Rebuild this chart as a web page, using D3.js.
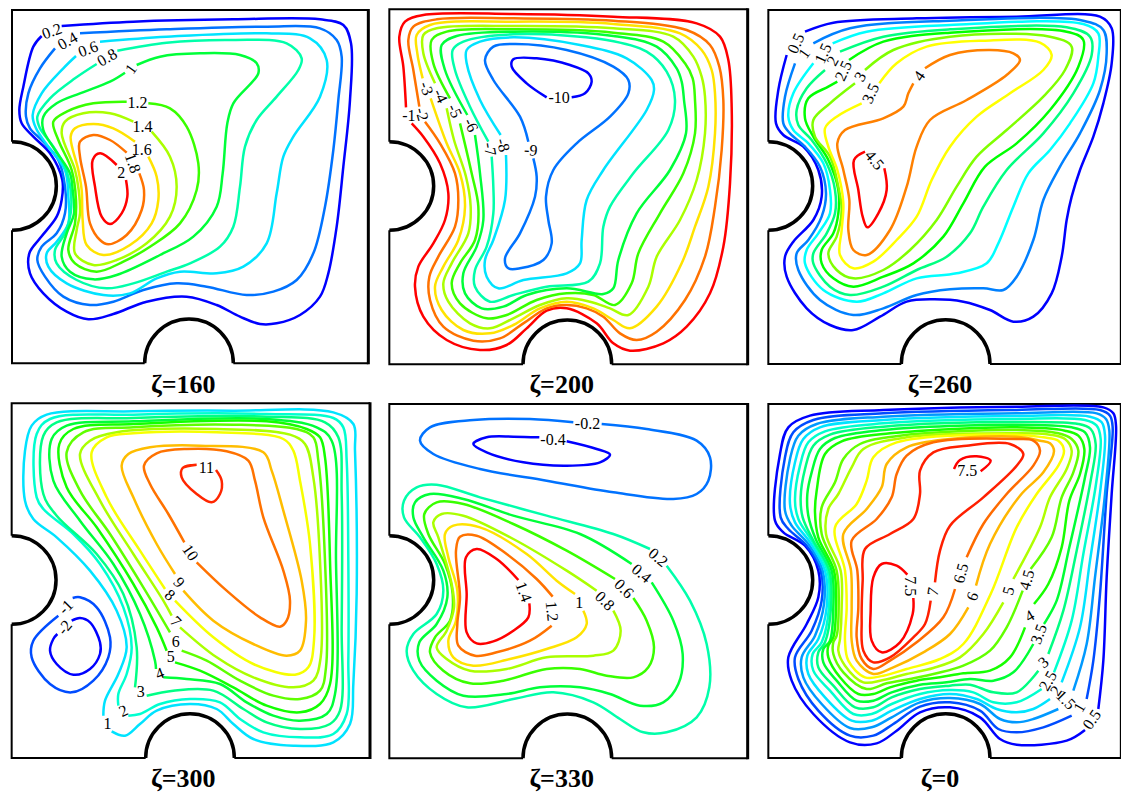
<!DOCTYPE html>
<html>
<head>
<meta charset="utf-8">
<script src="https://cdn.jsdelivr.net/npm/d3@7"></script>
<style>
  body { margin: 0; background: #fff; }
  text { font-family: "Liberation Serif", serif; }
</style>
</head>
<body>
<div id="chart"></div>
<script>
// Contours are traced in cavity units, one panel spans 0..1125 on both axes
const titles = ['ζ=160', 'ζ=200', 'ζ=260', 'ζ=300', 'ζ=330', 'ζ=0'];

// zeta = 160
const levels160 = [0.2, 0.4, 0.6, 0.8, 1, 1.2, 1.4, 1.6, 1.8, 2];
const lines160 = [
  [[185,78],[400,65],[700,58],[960,58],[1030,75],[1053,130],[1050,300],[1030,500],[1010,680],[985,820],[960,890],[900,945],[830,970],[780,972],[720,950],[650,915],[560,890],[440,905],[340,942],[265,958],[200,935],[130,880],[90,820],[88,760],[120,715],[170,650],[185,600],[187,540],[150,460],[100,410],[65,370],[58,330],[70,260],[100,140],[125,108]],
  [[240,100],[500,88],[800,80],[960,85],[1010,120],[1025,170],[1015,300],[1000,450],[975,620],[940,760],[890,840],[820,875],[740,885],[620,860],[530,850],[430,870],[340,905],[270,915],[190,890],[135,830],[112,780],[125,740],[170,700],[195,640],[195,560],[175,480],[130,425],[90,385],[78,350],[85,280],[120,205],[165,145]],
  [[300,125],[500,110],[800,100],[930,115],[980,180],[960,290],[880,410],[850,470],[830,580],[800,730],[730,800],[650,820],[540,815],[470,835],[390,880],[310,885],[200,850],[145,800],[140,760],[170,725],[205,670],[205,590],[195,510],[145,440],[108,385],[98,345],[125,280],[190,205],[228,168]],
  [[352,152],[500,128],[700,120],[860,130],[905,175],[895,210],[830,290],[770,360],[735,440],[720,560],[700,680],[660,740],[570,790],[500,815],[400,850],[320,865],[230,840],[170,790],[165,750],[195,700],[212,640],[212,570],[195,500],[160,440],[120,385],[112,350],[150,295],[225,235],[290,192]],
  [[410,195],[480,170],[600,160],[720,165],[770,190],[775,220],[700,310],[682,370],[668,520],[650,620],[580,710],[480,765],[350,825],[280,838],[210,815],[185,770],[200,700],[222,640],[218,570],[210,520],[165,450],[130,390],[130,350],[170,310],[240,280],[330,245],[375,218]],
  [[445,310],[510,325],[560,380],[595,490],[590,570],[540,670],[450,740],[370,785],[290,815],[225,790],[205,750],[225,670],[228,600],[215,510],[175,420],[160,365],[200,335],[280,310],[380,305]],
  [[455,395],[510,470],[530,560],[510,650],[440,730],[350,780],[280,795],[225,760],[230,690],[240,640],[236,570],[225,510],[185,400],[195,365],[250,340],[330,340],[400,365]],
  [[445,470],[470,530],[475,600],[455,670],[390,735],[310,765],[260,735],[248,660],[245,570],[235,510],[212,410],[225,385],[280,372],[340,385],[405,425]],
  [[418,520],[432,570],[425,630],[380,705],[325,733],[300,720],[270,670],[258,560],[240,470],[240,425],[280,405],[330,420],[380,458]],
  [[378,540],[382,590],[365,640],[330,672],[305,650],[285,560],[278,480],[300,460],[350,495]]
];
const angles160 = [-20, -30, -20, -30, -55, 0, 0, 0, 70, 0];

// zeta = 200
const levels200 = [-1, -2, -3, -4, -5, -6, -7, -8, -9, -10];
const lines200 = [
  [[78,322],[70,200],[58,110],[75,65],[130,45],[400,42],[700,50],[950,70],[1020,110],[1045,180],[1055,320],[1050,550],[1030,740],[990,880],[920,980],[850,1030],[750,1052],[700,1030],[650,970],[560,925],[500,932],[440,985],[380,1035],[300,1050],[200,1020],[130,950],[105,860],[115,800],[160,730],[195,660],[205,580],[180,490],[130,410],[95,370]],
  [[118,320],[100,210],[85,120],[100,80],[170,58],[400,55],[700,62],[920,90],[990,135],[1018,200],[1030,300],[1025,450],[1005,620],[975,770],[915,900],[830,995],[770,1020],[720,1000],[670,950],[620,925],[560,915],[500,925],[430,970],[360,1015],[280,1022],[190,980],[150,900],[148,830],[175,770],[225,680],[235,600],[225,520],[180,430],[135,365]],
  [[128,235],[112,160],[110,105],[150,75],[400,65],[700,72],[900,100],[965,150],[995,210],[1005,280],[1005,400],[985,560],[945,680],[905,790],[830,920],[750,985],[700,960],[640,925],[560,905],[480,925],[400,975],[330,1000],[250,990],[185,930],[165,860],[190,800],[235,720],[255,620],[240,520],[200,430],[152,295]],
  [[165,250],[130,160],[130,105],[170,85],[400,78],[700,85],[880,110],[940,170],[965,230],[975,290],[975,400],[950,540],[900,660],[830,770],[805,860],[745,945],[690,925],[630,905],[560,895],[480,915],[400,955],[330,985],[270,970],[205,905],[190,850],[215,790],[265,700],[272,620],[258,530],[222,420],[200,325]],
  [[210,295],[160,190],[155,120],[200,95],[400,88],[700,98],[850,125],[915,190],[938,235],[945,300],[945,400],[910,520],[840,640],[775,760],[755,850],[705,915],[640,885],[560,880],[470,900],[380,945],[320,955],[240,910],[215,850],[240,790],[285,720],[295,620],[275,520],[240,370]],
  [[262,345],[195,210],[185,135],[230,108],[400,95],[700,108],[830,140],[890,205],[905,245],[912,300],[918,400],[870,510],[770,640],[715,780],[700,865],[670,882],[560,865],[440,885],[370,920],[305,925],[255,880],[250,820],[290,740],[310,660],[300,520],[285,405]],
  [[325,425],[270,320],[225,210],[218,150],[250,125],[400,103],[680,120],[800,155],[860,215],[885,300],[865,390],[760,520],[690,620],[670,680],[660,790],[625,845],[500,860],[400,885],[330,905],[285,860],[285,810],[320,740],[340,640],[340,560],[335,470]],
  [[362,405],[300,300],[260,190],[260,150],[300,125],[400,112],[600,135],[740,175],[815,240],[822,270],[800,330],[670,510],[620,600],[605,720],[600,790],[560,820],[430,840],[355,865],[320,830],[315,780],[340,720],[375,600],[378,465]],
  [[445,425],[420,350],[340,240],[315,180],[340,140],[400,132],[560,150],[700,200],[745,240],[745,280],[690,350],[590,430],[520,510],[498,590],[505,660],[515,730],[490,780],[420,805],[385,805],[375,775],[420,700],[465,590],[470,530],[460,475]],
  [[500,292],[440,250],[395,200],[400,178],[470,175],[570,195],[625,220],[635,245],[615,280],[575,292]]
];
const angles200 = [0, 75, 70, 65, 65, 65, 80, 75, 5, 0];

// zeta = 260
const levels260 = [0.5, 1, 1.5, 2, 2.5, 3, 3.5, 4, 4.5];
const lines260 = [
  [[165,95],[250,68],[500,55],[800,50],[1050,50],[1085,85],[1085,190],[1060,310],[1030,410],[990,510],[965,590],[950,660],[935,770],[905,880],[850,950],[790,965],[720,930],[640,905],[550,898],[470,905],[390,950],[310,990],[240,975],[170,925],[110,830],[105,770],[130,725],[190,660],[215,590],[205,510],[160,440],[100,405],[78,370],[85,270],[110,165]],
  [[190,130],[300,85],[600,62],[1000,62],[1060,90],[1070,160],[1050,270],[990,400],[930,500],[880,600],[850,720],[800,830],[760,870],[700,865],[600,868],[500,885],[400,925],[310,945],[210,900],[145,810],[140,760],[175,720],[215,650],[228,580],[210,500],[165,440],[120,400],[100,370],[105,290],[135,190]],
  [[248,130],[350,95],[600,75],[1000,72],[1045,100],[1045,170],[1030,250],[960,370],[900,450],[835,520],[790,620],[745,730],[710,790],[620,820],[500,835],[400,880],[320,905],[220,870],[165,790],[170,750],[205,700],[240,640],[240,570],[220,490],[175,430],[130,390],[115,350],[130,280],[190,190]],
  [[270,155],[400,110],[600,88],[950,82],[1020,110],[1025,165],[970,280],[880,400],[770,510],[700,620],[660,700],[590,770],[500,810],[400,860],[300,885],[240,860],[190,790],[190,760],[230,700],[255,640],[255,570],[230,490],[185,420],[145,375],[140,330],[170,265],[225,210]],
  [[297,180],[400,125],[600,98],[950,95],[1000,120],[985,200],[900,330],[800,430],[705,500],[640,610],[580,710],[490,790],[400,830],[310,860],[250,835],[215,790],[215,750],[250,700],[265,640],[265,570],[235,480],[190,410],[165,355],[175,295],[235,260],[262,245]],
  [[345,210],[430,150],[600,110],[900,110],[965,140],[945,210],[880,290],[770,390],[680,470],[620,560],[560,660],[480,750],[400,810],[310,835],[260,810],[235,760],[260,710],[275,630],[265,560],[240,470],[195,410],[190,360],[240,310],[315,250]],
  [[388,250],[440,190],[530,140],[700,122],[870,128],[905,165],[880,210],[780,280],[680,350],[600,440],[545,540],[500,650],[440,720],[370,785],[310,805],[270,765],[275,690],[280,610],[262,510],[235,440],[225,385],[260,350],[335,310]],
  [[525,205],[600,165],[720,150],[790,160],[810,180],[770,225],[650,300],[540,360],[500,440],[470,560],[420,690],[350,765],[310,750],[295,690],[298,600],[280,510],[262,430],[285,390],[400,355],[460,320],[475,280],[490,250]],
  [[403,505],[410,570],[385,640],[352,682],[338,650],[325,570],[312,480],[345,455]]
];
const angles260 = [-65, -55, -65, -60, -65, -60, -65, -55, 50];

// zeta = 300
const levels300 = [-2, -1, 1, 2, 3, 4, 5, 6, 7, 8, 9, 10, 11];
const lines300 = [
  [[215,680],[240,672],[270,685],[300,745],[300,780],[270,825],[220,842],[170,810],[150,770],[160,735],[172,720]],
  [[218,612],[240,610],[290,640],[330,730],[325,790],[280,860],[215,895],[150,870],[95,790],[100,740],[175,665]],
  [[335,1012],[375,1025],[420,990],[470,950],[570,930],[650,945],[700,990],[760,1035],[880,1055],[1000,1045],[1050,990],[1060,870],[1070,600],[1065,170],[1060,90],[1000,55],[700,50],[400,52],[140,62],[95,95],[75,170],[75,320],[100,375],[170,430],[270,530],[350,650],[380,760],[355,840],[315,920],[310,965]],
  [[385,965],[420,960],[480,930],[570,915],[660,925],[720,975],[790,1015],[900,1030],[1000,1020],[1040,960],[1045,800],[1045,500],[1040,200],[1030,100],[1000,72],[800,60],[400,62],[150,75],[110,120],[110,310],[130,345],[220,420],[300,510],[370,640],[395,760],[380,840],[355,900],[355,935]],
  [[440,905],[520,890],[640,890],[730,945],[800,985],[900,1005],[990,990],[1020,950],[1025,700],[1025,300],[1015,130],[975,85],[800,68],[400,72],[170,85],[130,125],[130,300],[170,365],[290,480],[370,600],[410,760],[405,880]],
  [[490,850],[560,855],[660,870],[740,925],[820,965],[900,980],[980,960],[1005,900],[1008,500],[995,140],[950,100],[800,75],[400,82],[200,95],[155,135],[160,260],[240,380],[340,510],[420,660],[465,800],[468,825]],
  [[525,805],[600,830],[700,880],[800,935],[900,955],[960,930],[990,870],[990,500],[975,190],[960,130],[920,105],[800,82],[400,90],[220,105],[178,150],[200,280],[290,400],[400,570],[470,700],[500,770]],
  [[545,770],[620,800],[720,860],[820,905],[900,915],[960,890],[978,820],[975,500],[955,200],[940,130],[890,105],[700,92],[400,100],[250,115],[200,175],[240,290],[330,420],[430,580],[510,715]],
  [[540,700],[650,790],[760,850],[880,880],[940,860],[962,790],[960,500],[940,250],[915,150],[870,122],[650,105],[350,115],[270,140],[240,180],[300,320],[400,480],[490,620],[515,665]],
  [[525,620],[640,730],[760,810],[885,842],[925,820],[942,740],[930,450],[900,260],[880,170],[850,135],[650,115],[400,118],[320,130],[275,175],[320,310],[420,470],[495,585]],
  [[550,590],[640,680],[760,750],[860,785],[900,770],[918,680],[905,560],[850,350],[815,230],[790,175],[600,155],[450,160],[385,180],[365,215],[400,310],[470,450],[525,540]],
  [[590,505],[680,590],[780,670],[840,698],[860,680],[870,620],[850,530],[790,370],[765,260],[745,200],[680,172],[560,165],[470,178],[432,215],[450,270],[505,360],[553,445]],
  [[648,228],[665,260],[660,300],[635,325],[590,300],[545,250],[548,222],[590,212]]
];
const angles300 = [-50, -45, 0, -25, 0, -20, 0, 0, 45, 40, 50, 55, 0];

// zeta = 330
const levels330 = [-0.2, -0.4, 0.2, 0.4, 0.6, 0.8, 1, 1.2, 1.4];
const lines330 = [
  [[665,90],[800,105],[950,140],[990,190],[985,260],[950,300],[880,315],[700,295],[500,260],[300,225],[160,180],[120,140],[150,100],[280,78],[450,75],[580,85]],
  [[560,142],[650,165],[690,182],[660,205],[560,215],[430,205],[320,175],[280,150],[320,130],[400,128],[478,130]],
  [[860,515],[930,620],[980,750],[988,880],[950,970],[860,1015],[790,1015],[720,975],[640,925],[520,895],[400,915],[260,940],[170,900],[100,830],[80,770],[100,720],[170,660],[190,590],[170,510],[120,430],[72,370],[72,320],[110,280],[170,272],[300,310],[500,365],[700,420],[810,465]],
  [[815,565],[880,680],[908,780],[895,870],[850,925],[780,935],[690,900],[600,880],[480,880],[380,900],[250,905],[170,860],[118,800],[118,745],[170,690],[202,610],[190,530],[130,430],[100,370],[105,325],[150,300],[250,315],[400,365],[600,420],[755,510]],
  [[760,612],[800,680],[822,760],[805,820],[760,850],[680,845],[600,825],[500,825],[370,860],[270,868],[190,830],[150,775],[165,730],[210,680],[218,600],[195,510],[145,420],[133,360],[170,325],[250,330],[400,390],[560,470],[705,555]],
  [[700,650],[722,710],[700,770],[640,785],[500,790],[380,825],[270,830],[200,795],[170,760],[200,710],[222,640],[215,570],[175,430],[160,385],[185,360],[250,365],[400,435],[560,530],[650,590]],
  [[610,650],[620,690],[590,730],[500,765],[390,795],[280,815],[220,790],[205,740],[228,680],[232,590],[205,490],[195,420],[220,395],[300,400],[440,480],[530,560],[585,600]],
  [[515,695],[450,740],[350,775],[285,785],[235,755],[232,690],[240,610],[228,470],[240,428],[290,425],[380,480],[470,555],[518,608]],
  [[448,628],[445,670],[400,710],[340,742],[290,748],[260,715],[260,600],[258,490],[290,465],[350,495],[415,558]]
];
const angles330 = [0, 0, 40, 40, 45, 45, 0, 85, 70];

// zeta = 0 (5.5 carries no label and is a closed loop)
const levels0 = [0.5, 1, 1.5, 2, 2.5, 3, 3.5, 4, 4.5, 5, 5.5, 6, 6.5, 7, 7.5, 7.5];
const lines0 = [
  [[1005,1008],[950,1040],[800,1052],[750,1035],[690,970],[600,940],[510,955],[440,1010],[380,1048],[300,1045],[190,960],[125,860],[115,790],[170,690],[205,610],[205,530],[165,455],[100,415],[75,380],[90,180],[115,100],[180,65],[400,48],[800,38],[1060,40],[1090,58],[1098,95],[1085,300],[1070,550],[1060,800],[1045,945]],
  [[965,965],[880,1000],[800,1015],[745,1005],[690,950],[600,925],[510,938],[430,990],[370,1025],[300,1025],[205,950],[145,855],[135,790],[185,710],[215,620],[212,530],[170,455],[115,405],[92,370],[105,190],[130,115],[190,78],[400,58],[800,48],[1050,48],[1080,65],[1088,100],[1070,300],[1050,600],[1030,800],[1010,915]],
  [[925,945],[850,975],[800,985],[750,975],[690,930],[600,912],[510,925],[425,970],[365,1000],[300,1002],[215,930],[160,850],[155,790],[195,725],[222,630],[218,530],[175,450],[125,395],[105,350],[120,195],[145,125],[200,90],[400,68],[800,58],[1040,58],[1068,75],[1078,110],[1065,300],[1035,550],[1010,750],[970,890]],
  [[900,915],[850,945],[800,955],[740,945],[680,915],[600,900],[510,915],[425,950],[365,980],[305,980],[225,910],[175,840],[172,785],[205,735],[230,640],[225,530],[180,445],[135,385],[120,330],[135,205],[160,135],[210,100],[400,78],[800,66],[1020,68],[1055,85],[1065,125],[1052,280],[1020,500],[990,700],[935,865]],
  [[875,885],[800,925],[730,925],[670,895],[600,888],[510,900],[425,930],[365,960],[310,960],[240,890],[190,830],[188,780],[215,745],[237,640],[232,530],[185,440],[145,375],[135,320],[150,215],[175,145],[225,112],[400,88],[800,75],[1005,78],[1040,95],[1052,135],[1038,270],[1000,480],[965,680],[912,835]],
  [[865,830],[800,895],[730,895],[660,872],[600,875],[510,885],[425,910],[370,940],[315,940],[250,875],[205,820],[205,775],[225,745],[243,640],[238,530],[190,440],[158,370],[152,310],[165,225],[190,155],[240,122],[400,98],[800,84],[985,90],[1022,105],[1037,150],[1022,260],[980,470],[940,650],[895,780]],
  [[850,750],[790,835],[730,860],[660,855],[590,865],[510,872],[425,895],[370,920],[320,920],[260,860],[220,805],[220,765],[240,740],[250,640],[245,530],[197,435],[175,365],[172,300],[185,235],[210,165],[255,132],[400,108],[800,92],[965,100],[1005,115],[1020,160],[1005,250],[958,460],[920,620],[882,690]],
  [[825,700],[780,790],[720,830],[640,838],[570,850],[500,860],[420,880],[370,900],[325,900],[270,850],[235,790],[235,755],[250,730],[258,640],[252,530],[205,430],[195,355],[200,290],[225,180],[275,142],[420,118],[800,100],[945,110],[985,125],[1003,165],[990,240],[958,320],[935,460],[895,570],[852,630]],
  [[818,590],[770,700],[720,770],[640,815],[560,838],[480,855],[410,868],[350,885],[280,835],[250,780],[250,745],[260,725],[266,640],[260,530],[215,420],[215,340],[255,265],[280,195],[330,150],[450,125],[800,108],[925,118],[965,135],[985,170],[970,235],[935,310],[905,430],[842,525]],
  [[760,625],[700,720],[630,790],[550,822],[470,840],[400,858],[340,865],[285,815],[265,770],[270,735],[275,640],[272,530],[228,420],[235,345],[265,300],[305,220],[340,165],[470,130],[800,118],[900,122],[945,135],[965,170],[950,225],[900,310],[870,400],[790,555]],
  [[722,600],[640,750],[570,795],[470,825],[400,845],[345,850],[295,800],[285,740],[290,640],[285,530],[255,400],[320,330],[350,260],[370,190],[440,145],[800,122],[880,130],[925,140],[942,170],[925,215],[860,300],[800,400]],
  [[655,640],[600,720],[520,775],[430,820],[370,840],[320,800],[305,740],[305,640],[303,530],[280,420],[350,345],[395,280],[410,210],[470,160],[600,135],[800,128],[870,140],[900,148],[912,172],[880,235],[810,305],[720,450],[678,575]],
  [[615,585],[580,670],[500,745],[420,800],[370,825],[335,795],[320,730],[325,640],[322,530],[305,440],[380,375],[425,310],[440,240],[470,185],[550,145],[800,135],[850,140],[870,170],[850,215],[770,300],[700,390],[650,490]],
  [[542,620],[525,690],[490,730],[420,790],[370,805],[340,770],[335,680],[338,560],[345,465],[420,420],[490,375],[510,300],[510,230],[550,175],[650,155],[780,150],[820,180],[800,215],[700,310],[600,395],[570,470],[555,565]],
  [[490,612],[488,660],[450,745],[395,775],[365,740],[362,650],[370,550],[395,510],[440,515],[472,542]],
  [[692,232],[722,200],[680,187],[630,198],[612,225]]
];
const angles0 = [-55, -60, 45, -55, -60, -40, -70, -30, -75, -75, null, -70, -75, -80, 90, 0];

const width = 1121;
const height = 794;
const unit = 1125; // cavity units per panel

const jet = ['#0000ff', '#0080ff', '#00ffff', '#00ff80', '#00ff00', '#80ff00', '#ffff00', '#ff8000', '#ff0000'];
const jetStops = d3.range(9).map(i => i / 8);
const jetScale = d3.scaleLinear().domain(jetStops).range(jet).clamp(true);

const panels = [
  {levels: levels160, lines: lines160, angles: angles160, range: [0.2, 2],     ox: 0,   oy: 0,   box: [36, 1105, 30, 1090], left: 558, bottom: 567, tx: 550},
  {levels: levels200, lines: lines200, angles: angles200, range: [-10, -1],    ox: 380, oy: 0,   box: [28, 1103, 28, 1093], left: 558, bottom: 562, tx: 545},
  {levels: levels260, lines: lines260, angles: angles260, range: [0.5, 4.5],   ox: 750, oy: 0,   box: [55, 1114, 30, 1092], left: 558, bottom: 587, tx: 570},
  {levels: levels300, lines: lines300, angles: angles300, range: [-2, 11.5],   ox: 0,   oy: 394, box: [35, 1110, 28, 1092], left: 558, bottom: 570, tx: 550},
  {levels: levels330, lines: lines330, angles: angles330, range: [-0.4, 1.4],  ox: 380, oy: 394, box: [28, 1103, 30, 1093], left: 558, bottom: 562, tx: 545},
  {levels: levels0,   lines: lines0,   angles: angles0,   range: [0.5, 7.2],   ox: 750, oy: 394, box: [55, 1114, 30, 1092], left: 558, bottom: 587, tx: 570}
];

const svg = d3.select('#chart')
  .append('svg')
  .attr('width', width)
  .attr('height', height)
  .style('display', 'block');

panels.forEach((p, i) => {
  const x = d3.scaleLinear().domain([0, unit]).range([p.ox, p.ox + unit / 3]);
  const y = d3.scaleLinear().domain([0, unit]).range([p.oy, p.oy + unit / 3]);
  const g = svg.append('g').attr('class', 'panel');
  const color = v => jetScale((v - p.range[0]) / (p.range[1] - p.range[0]));

  const [x0, x1, y0, y1] = p.box;
  const r = 133 / 3;

  // Cavity walls
  const wall = d3.path();
  wall.moveTo(x(x0), y(p.left) + r);
  wall.lineTo(x(x0), y(y1));
  wall.lineTo(x(p.bottom) - r, y(y1));
  wall.moveTo(x(p.bottom) + r, y(y1));
  wall.lineTo(x(x1), y(y1));
  wall.moveTo(x(x0), y(p.left) - r);
  wall.lineTo(x(x0), y(y0));
  wall.lineTo(x(x1), y(y0));
  g.append('path').attr('d', wall.toString()).attr('fill', 'none').attr('stroke', '#000').attr('stroke-width', 2);

  g.append('line')
    .attr('x1', x(x1)).attr('x2', x(x1)).attr('y1', y(y0) - 1).attr('y2', y(y1) + 1)
    .attr('stroke', '#000').attr('stroke-width', 3);

  const cyl = d3.path();
  cyl.arc(x(x0), y(p.left), r, -Math.PI / 2, Math.PI / 2);
  cyl.moveTo(x(p.bottom) - r, y(y1));
  cyl.arc(x(p.bottom), y(y1), r, Math.PI, 2 * Math.PI);
  g.append('path').attr('d', cyl.toString()).attr('fill', 'none').attr('stroke', '#000').attr('stroke-width', 3.5);

  // Contour lines, open where a label sits in the gap
  const openLine = d3.line().x(d => x(d[0])).y(d => y(d[1])).curve(d3.curveCatmullRom.alpha(0.5));
  const closedLine = d3.line().x(d => x(d[0])).y(d => y(d[1])).curve(d3.curveCatmullRomClosed.alpha(0.5));

  g.selectAll('path.contour')
    .data(p.lines)
    .enter()
    .append('path')
    .attr('class', 'contour')
    .attr('d', (d, j) => p.angles[j] === null ? closedLine(d) : openLine(d))
    .attr('fill', 'none')
    .attr('stroke', (d, j) => color(p.levels[j]))
    .attr('stroke-width', 2.5);

  // Labels go in the middle of each gap
  p.lines.forEach((line, j) => {
    if (p.angles[j] === null) return;
    const a = line[0];
    const b = line[line.length - 1];
    const lx = x((a[0] + b[0]) / 2);
    const ly = y((a[1] + b[1]) / 2);
    g.append('text')
      .attr('transform', `translate(${lx},${ly}) rotate(${p.angles[j]})`)
      .attr('text-anchor', 'middle')
      .attr('dy', '0.34em')
      .attr('font-size', 16)
      .attr('fill', '#000')
      .text(String(p.levels[j]));
  });

  g.append('text')
    .attr('x', x(p.tx))
    .attr('y', p.oy + 393)
    .attr('text-anchor', 'middle')
    .attr('font-size', 26)
    .attr('font-weight', 'bold')
    .attr('fill', '#000')
    .text(titles[i]);
});
</script>
</body>
</html>
